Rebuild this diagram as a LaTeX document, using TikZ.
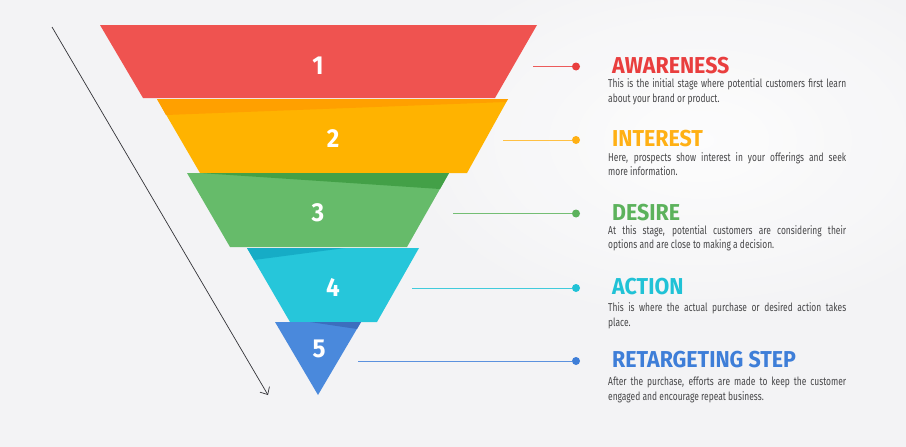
\documentclass[tikz,border=0pt]{standalone}
\usepackage{fontspec}
\setmainfont{Fira Sans}
\newfontfamily\titlefont[FakeStretch=0.93]{Fira Sans}
\newfontfamily\bodyfont[FakeStretch=0.74]{Fira Sans}
\usetikzlibrary{arrows.meta}
\definecolor{bgc}{RGB}{243,243,245}
\definecolor{cRed}{RGB}{239,83,80}
\definecolor{cOrange}{RGB}{255,179,0}
\definecolor{cOrangeD}{RGB}{255,160,0}
\definecolor{cGreen}{RGB}{102,187,106}
\definecolor{cGreenD}{RGB}{67,160,71}
\definecolor{cCyan}{RGB}{38,198,218}
\definecolor{cCyanD}{RGB}{22,172,198}
\definecolor{cBlue}{RGB}{74,137,220}
\definecolor{cBlueD}{RGB}{60,110,190}
\definecolor{tRed}{RGB}{233,62,62}
\definecolor{tOrange}{RGB}{255,176,20}
\definecolor{tGreen}{RGB}{92,178,92}
\definecolor{tCyan}{RGB}{32,194,214}
\definecolor{tBlue}{RGB}{62,126,216}
\definecolor{bodyc}{RGB}{70,70,72}
\definecolor{arrowc}{RGB}{50,50,55}
\begin{document}
\begin{tikzpicture}[x=1pt,y=-1pt,
  num/.style={text=white,font=\titlefont\bfseries\fontsize{26}{26}\selectfont,inner sep=0pt},
  ttl/.style={anchor=west,inner sep=0pt,font=\titlefont\bfseries\fontsize{23}{23}\selectfont},
  bdy/.style={anchor=base west,inner sep=0pt,text=bodyc,font=\bodyfont\fontsize{11.4}{14.5}\selectfont},
  conn/.style={line width=1pt},
  dot/.style={circle,inner sep=0pt,minimum size=8pt},
  arrowline/.style={draw=arrowc,line width=0.7pt,-{Straight Barb[length=6pt,width=11pt,line width=0.7pt]}}
]
\useasboundingbox (0,0) rectangle (906,447);
\fill[bgc] (0,0) rectangle (906,447);
\shade[inner color=white,outer color=bgc,opacity=0.8] (700,140) ellipse (330 and 200);

% funnel pieces
\fill[cRed] (100,25) -- (537,25) -- (495,98) -- (143,98) -- cycle;
\fill[cOrange] (157,99) -- (508,99) -- (467,173) -- (200,173) -- cycle;
\fill[cOrangeD] (157,99) -- (508,99) -- (506,102) -- (166,115) -- cycle;
\fill[cGreen] (187,173) -- (449,173) -- (407,247) -- (230,247) -- cycle;
\fill[cGreenD] (200,173) -- (449,173) -- (440,189) -- cycle;
\fill[cCyan] (247,248) -- (419,248) -- (377,322) -- (290,322) -- cycle;
\fill[cCyanD] (247,248) -- (345,248) -- (254,260) -- cycle;
\fill[cBlue] (275,322) -- (361,322) -- (318,395) -- cycle;
\fill[cBlueD] (310,322) -- (361,322) -- (357,329) -- cycle;

% numbers
\node[num] (n1) at (318,66) {1};
\node[num] (n2) at (333,139) {2};
\node[num] (n3) at (318,213) {3};
\node[num] (n4) at (333,287) {4};
\node[num] (n5) at (319,349) {5};

% arrow
\coordinate (as) at (52,27);
\coordinate (ae) at (268,395);
\draw[arrowline] (as) -- (ae);

% connectors
\coordinate (s1) at (533,66.5);
\coordinate (s2) at (503,140);
\coordinate (s3) at (453,213.5);
\coordinate (s4) at (412,288);
\coordinate (s5) at (358,361);
\node[dot,fill=tRed] (d1) at (576,66.5) {};
\node[dot,fill=tOrange] (d2) at (576,140) {};
\node[dot,fill=tGreen] (d3) at (576,213.5) {};
\node[dot,fill=tCyan] (d4) at (576,288) {};
\node[dot,fill=tBlue] (d5) at (576,361) {};
\draw[conn,draw=tRed!85] (s1) -- (d1);
\draw[conn,draw=tOrange!80] (s2) -- (d2);
\draw[conn,draw=tGreen!85] (s3) -- (d3);
\draw[conn,draw=tCyan!85] (s4) -- (d4);
\draw[conn,draw=tBlue!85] (s5) -- (d5);

% titles
\node[ttl,text=tRed] (t1) at (612,65.5) {AWARENESS};
\node[ttl,text=tOrange] (t2) at (612,139) {INTEREST};
\node[ttl,text=tGreen] (t3) at (612,213) {DESIRE};
\node[ttl,text=tCyan] (t4) at (612,287) {ACTION};
\node[ttl,text=tBlue] (t5) at (612,360) {RETARGETING STEP};

% descriptions
\node[bdy] (b1a) at (608,87.7) {\makebox[238pt][s]{This is the initial stage where potential customers first learn}};
\node[bdy] (b1b) at (608,102.2) {about your brand or product.};
\node[bdy] (b2a) at (608,161) {\makebox[238pt][s]{Here, prospects show interest in your offerings and seek}};
\node[bdy] (b2b) at (608,175.5) {more information.};
\node[bdy] (b3a) at (608,234.3) {\makebox[238pt][s]{At this stage, potential customers are considering their}};
\node[bdy] (b3b) at (608,248.8) {options and are close to making a decision.};
\node[bdy] (b4a) at (608,311.8) {\makebox[238pt][s]{This is where the actual purchase or desired action takes}};
\node[bdy] (b4b) at (608,326.3) {place.};
\node[bdy] (b5a) at (608,385.5) {\makebox[238pt][s]{After the purchase, efforts are made to keep the customer}};
\node[bdy] (b5b) at (608,400) {engaged and encourage repeat business.};
\end{tikzpicture}
\end{document}
